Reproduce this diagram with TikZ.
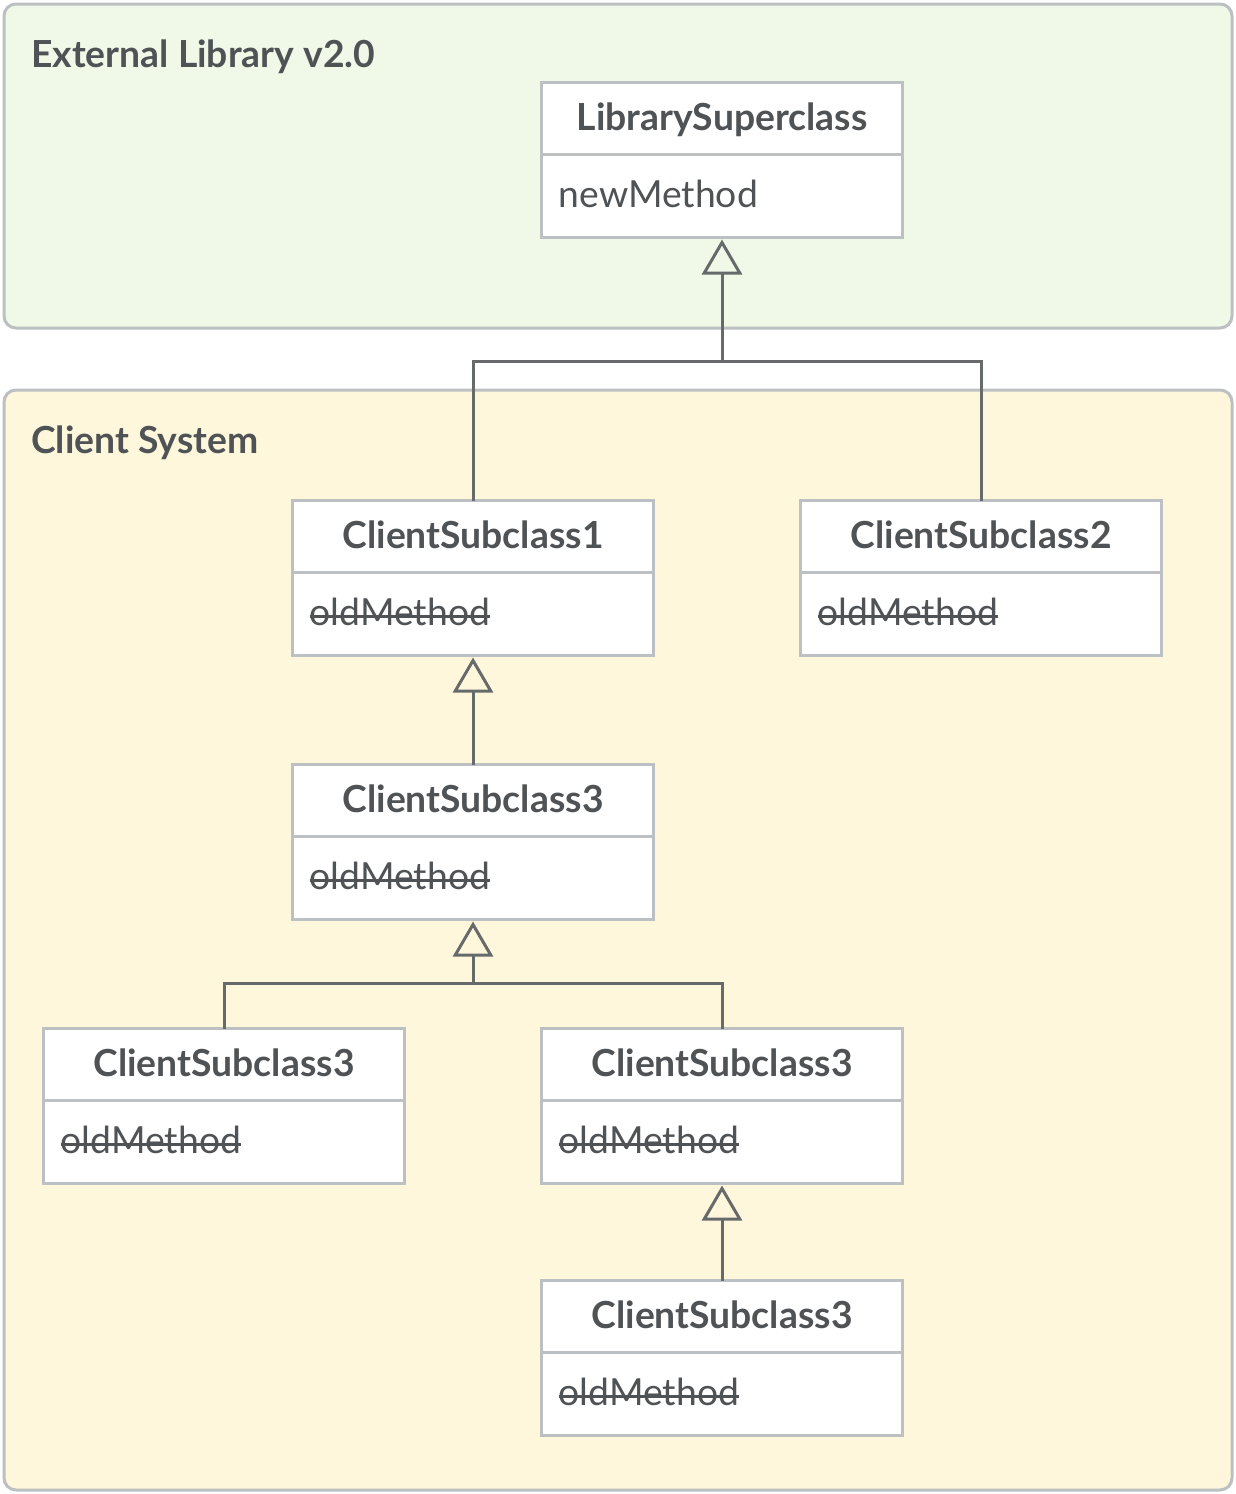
\documentclass[tikz,border=0pt]{standalone}
\usepackage{fontspec}
\setmainfont{Lato}
\usetikzlibrary{arrows.meta}
\definecolor{txt}{HTML}{4F5355}
\definecolor{boxline}{HTML}{BCC0C2}
\definecolor{conn}{HTML}{676A6A}
\definecolor{greenfill}{HTML}{F0F9E7}
\definecolor{yellowfill}{HTML}{FEF7DB}
\newcommand\classfont{\fontsize{37.3}{44}\selectfont}
\tikzset{
  panel/.style={draw=boxline, line width=3pt, rounded corners=12pt},
  panelTitle/.style={anchor=base west, inner sep=0pt, text=txt, font=\classfont\bfseries},
  classbox/.style={draw=boxline, fill=white, line width=3pt, minimum width=361pt, minimum height=155pt, inner sep=0pt, outer sep=0pt},
  classTitle/.style={anchor=base, inner sep=0pt, text=txt, font=\classfont\bfseries},
  classMethod/.style={anchor=base west, inner sep=0pt, text=txt, font=\classfont},
  divider/.style={draw=boxline, line width=3pt},
  connector/.style={draw=conn, line width=3pt},
  inherit/.style={connector, -{Triangle[open, length=35pt, width=40pt, line width=3pt]}},
  strike/.style={draw=txt, line width=3pt}
}
% \umlclass{name}{left x}{top y}{title}{method}{strike?}
\newcommand\umlclass[6]{%
  \node[classbox, anchor=north west] (#1) at (#2,#3) {};
  \draw[divider] ([yshift=-72pt]#1.north west) -- ([yshift=-72pt]#1.north east);
  \node[classTitle] (#1t) at ([yshift=-48pt]#1.north) {#4};
  \node[classMethod] (#1m) at ([xshift=17pt,yshift=-125pt]#1.north west) {#5};
  \ifnum#6=1
    \draw[strike] ([yshift=9pt]#1m.base west) -- ([yshift=9pt]#1m.base east);
  \fi
}
\begin{document}
\begin{tikzpicture}[x=1pt, y=-1pt]
\useasboundingbox (0,0) rectangle (1236,1494);
% panels
\draw[panel, fill=greenfill] (4,4) rectangle (1232,328);
\node[panelTitle] (extTitle) at (31,67) {External Library v2.0};
\draw[panel, fill=yellowfill] (4,390) rectangle (1232,1490);
\node[panelTitle] (cliTitle) at (31,453) {Client System};
% classes
\umlclass{ls}{541.5}{82.5}{LibrarySuperclass}{newMethod}{0}
\umlclass{csa}{292.5}{500.5}{ClientSubclass1}{oldMethod}{1}
\umlclass{csb}{800.5}{500.5}{ClientSubclass2}{oldMethod}{1}
\umlclass{csc}{292.5}{764.5}{ClientSubclass3}{oldMethod}{1}
\umlclass{csd}{43.5}{1028.5}{ClientSubclass3}{oldMethod}{1}
\umlclass{cse}{541.5}{1028.5}{ClientSubclass3}{oldMethod}{1}
\umlclass{csf}{541.5}{1280.5}{ClientSubclass3}{oldMethod}{1}
% connectors
\coordinate (j1) at (ls.south |- 0,361);
\draw[connector] (csa.north) |- (j1);
\draw[connector] (csb.north) |- (j1);
\draw[inherit] (j1) -- ([yshift=-2pt]ls.south);
\draw[inherit] (csc.north) -- ([yshift=-2pt]csa.south);
\coordinate (j2) at (csc.south |- 0,983);
\draw[connector] (csd.north) |- (j2);
\draw[connector] (cse.north) |- (j2);
\draw[inherit] (j2) -- ([yshift=-2pt]csc.south);
\draw[inherit] (csf.north) -- ([yshift=-2pt]cse.south);
\end{tikzpicture}
\end{document}
